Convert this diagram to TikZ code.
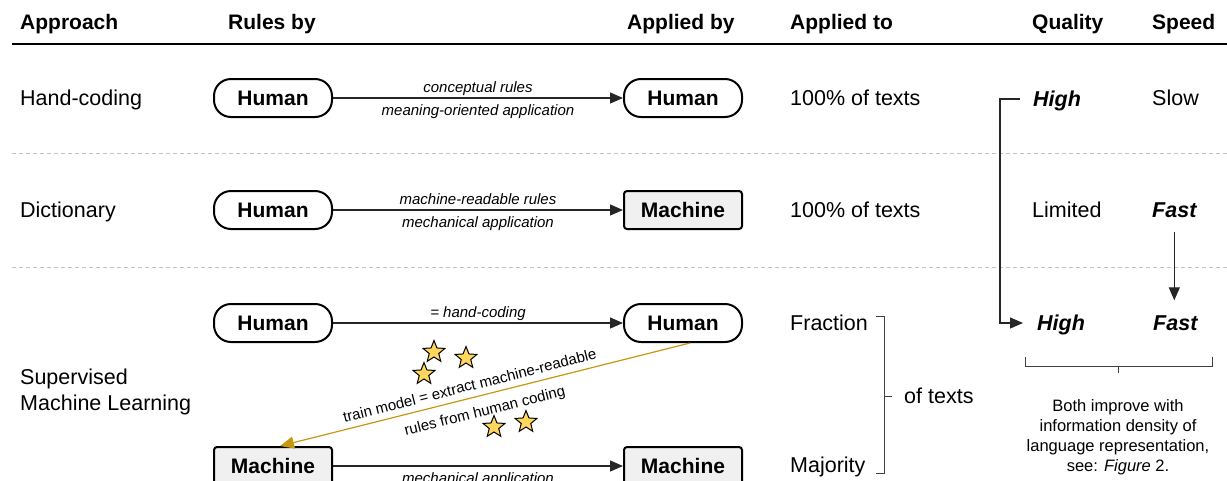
\documentclass[tikz,border=0pt]{standalone}
\usepackage{fontspec}
\setmainfont{Liberation Sans}
\usetikzlibrary{arrows.meta,shapes.geometric,calc}
\definecolor{sepgray}{RGB}{195,195,195}
\definecolor{machfill}{RGB}{240,240,240}
\definecolor{goldline}{RGB}{200,150,15}
\definecolor{staryel}{RGB}{255,215,95}
\definecolor{brgray}{RGB}{64,64,64}
\begin{document}
\begin{tikzpicture}[x=1pt,y=-1pt,
  big/.style={font=\fontsize{21.5}{25}\selectfont, inner sep=0pt, text height=15pt, text depth=0pt, anchor=west},
  hdr/.style={big, font=\fontsize{21}{25}\selectfont\bfseries},
  bigbi/.style={big, font=\fontsize{21.5}{25}\selectfont\bfseries\itshape},
  lab/.style={font=\fontsize{15}{18}\selectfont\itshape, inner sep=0pt, anchor=base},
  human/.style={draw, line width=2pt, rounded corners=17pt, minimum width=118pt, minimum height=38pt,
    font=\fontsize{21}{25}\selectfont\bfseries, text height=15pt, text depth=0pt, inner sep=0pt},
  machine/.style={human, rounded corners=3pt, fill=machfill},
  conn/.style={line width=1.2pt, draw=black!85, -{Triangle[length=13pt,width=11pt]}},
  sep/.style={draw=sepgray, line width=1pt, dash pattern=on 4pt off 3pt},
  staricon/.style={star, star points=5, star point ratio=2.3, minimum size=23pt, inner sep=0pt,
    draw=black, line width=1pt, fill=staryel},
  brk/.style={draw=brgray, line width=1pt},
  goldarr/.style={draw=goldline, line width=1.2pt, {Triangle[length=14pt,width=12pt]}-},
  goldlab/.style={font=\fontsize{15}{18}\selectfont, inner sep=2pt, sloped}
]
\path[use as bounding box, clip] (0,0) rectangle (1227,480);

% header
\node[hdr] (hA) at (20,22) {Approach};
\node[hdr] (hR) at (228,22) {Rules by};
\node[hdr] (hAb) at (627,22) {Applied by};
\node[hdr] (hAt) at (790,22) {Applied to};
\node[hdr] (hQ) at (1032,22) {Quality};
\node[hdr] (hS) at (1152,22) {Speed};
\coordinate (ruleL) at (12,44);
\coordinate (ruleR) at (1227,44);
\draw[line width=2pt] (ruleL) -- (ruleR);

% separators
\coordinate (s1L) at (12,153); \coordinate (s1R) at (1227,153);
\coordinate (s2L) at (12,267); \coordinate (s2R) at (1227,267);
\draw[sep] (s1L) -- (s1R);
\draw[sep] (s2L) -- (s2R);

% row 1
\node[big] (a1) at (20,98) {Hand-coding};
\node[human] (h1l) at (273,98) {Human};
\node[human] (h1r) at (683,98) {Human};
\draw[conn] (h1l) -- (h1r)
  node[lab, midway, yshift=6pt] {conceptual rules}
  node[lab, midway, yshift=-17pt] {meaning-oriented application};
\node[big] (t1) at (790,98) {100\% of texts};
\node[bigbi] (high1) at (1033,99) {High};
\node[big] (slow1) at (1152,98) {Slow};

% row 2
\node[big] (a2) at (20,210) {Dictionary};
\node[human] (h2l) at (273,210) {Human};
\node[machine] (m2r) at (683,210) {Machine};
\draw[conn] (h2l) -- (m2r)
  node[lab, midway, yshift=6pt] {machine-readable rules}
  node[lab, midway, yshift=-17pt] {mechanical application};
\node[big] (t2) at (790,210) {100\% of texts};
\node[big] (lim2) at (1032,210) {Limited};
\node[bigbi] (fast2) at (1152,210) {Fast};

% row 3
\node[big] (a3a) at (20,377) {Supervised};
\node[big] (a3b) at (20,403) {Machine Learning};
\node[human] (h3l) at (273,323) {Human};
\node[human] (h3r) at (683,323) {Human};
\draw[conn] (h3l) -- (h3r)
  node[lab, midway, yshift=6pt] {= hand-coding};
\node[machine] (m3l) at (273,466) {Machine};
\node[machine] (m3r) at (683,466) {Machine};
\draw[conn] (m3l) -- (m3r)
  node[lab, midway, yshift=-17pt] {mechanical application};
\draw[goldarr] ([xshift=7pt]m3l.north) -- ([xshift=7pt]h3r.south)
  node[goldlab, pos=0.47, above=4.5pt] {train model = extract machine-readable}
  node[goldlab, pos=0.49, below=7pt] {rules from human coding};

% stars
\node[staricon] (st1) at (434,352) {};
\node[staricon] (st2) at (466,358) {};
\node[staricon] (st3) at (424,374) {};
\node[staricon] (st4) at (494,427) {};
\node[staricon] (st5) at (526,422) {};

% applied to (row 3)
\node[big] (frac) at (790,323) {Fraction};
\node[big] (maj) at (790,465) {Majority};
\node[big] (oft) at (904,396) {of texts};
\coordinate (b1) at (876,316); \coordinate (b2) at (884,316);
\coordinate (b3) at (884,473); \coordinate (b4) at (876,473);
\coordinate (bm) at (884,396); \coordinate (bt) at (892,396);
\draw[brk] (b1) -- (b2) -- (b3) -- (b4);
\draw[brk] (bm) -- (bt);

% quality / speed row 3
\node[bigbi] (high3) at (1037,323) {High};
\node[bigbi] (fast3) at (1153,323) {Fast};
\draw[conn, shorten <=14pt, shorten >=15pt] (fast2.south) -- (fast2.south |- fast3.north);
\draw[conn] ([xshift=-13pt]high1.west) -- ([xshift=-33pt]high1.west) |- ([xshift=-14pt]high3.west);

% bottom brace and note
\coordinate (c1) at (1025,357); \coordinate (c2) at (1025,366);
\coordinate (c3) at (1212,366); \coordinate (c4) at (1212,357);
\coordinate (cm1) at (1118,366); \coordinate (cm2) at (1118,373);
\draw[brk] (c1) -- (c2) -- (c3) -- (c4);
\draw[brk] (cm1) -- (cm2);
\node[font=\fontsize{16.5}{20}\selectfont, align=center, inner sep=0pt, anchor=north] (note) at (1118,399)
  {Both improve with\\information density of\\language representation,\\see: \textit{Figure} 2.};
\end{tikzpicture}
\end{document}
